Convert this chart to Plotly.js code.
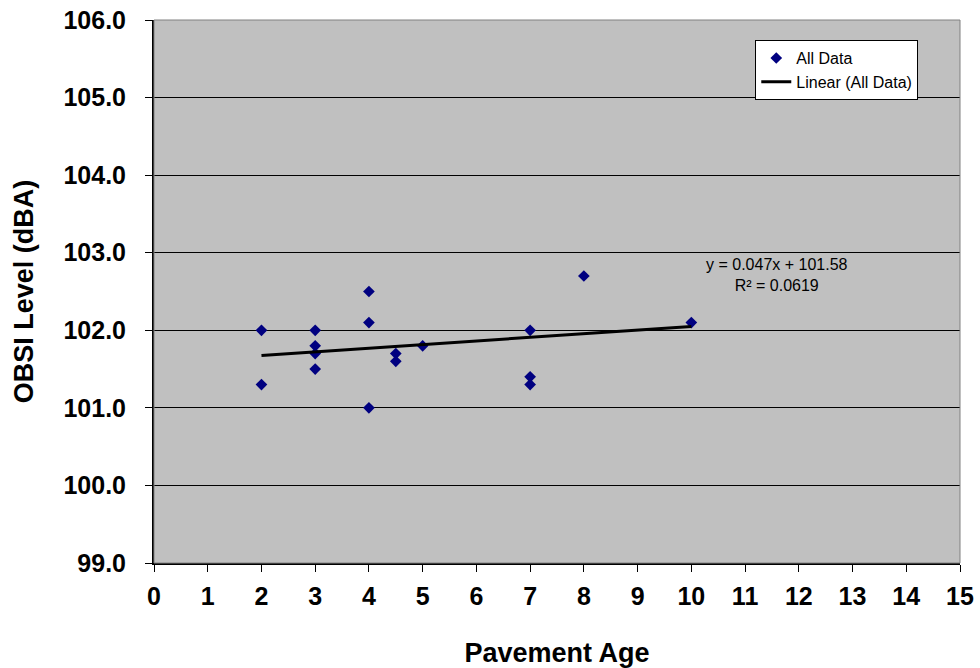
<!DOCTYPE html>
<html>
<head>
<meta charset="utf-8">
<script src="https://cdn.plot.ly/plotly-3.0.1.min.js"></script>
<style>html,body{margin:0;padding:0;background:#fff;}#chart{width:980px;height:668px;}</style>
</head>
<body>
<div id="chart"></div>
<script>
var ageValues = [2, 2, 3, 3, 3, 3, 4, 4, 4, 4.5, 4.5, 5, 7, 7, 7, 8, 10];
var obsiValues = [102.0, 101.3, 102.0, 101.8, 101.7, 101.5, 102.5, 102.1, 101.0, 101.7, 101.6, 101.8, 102.0, 101.4, 101.3, 102.7, 102.1];
var trendSlope = 0.047;
var trendIntercept = 101.58;
var trendR2 = 0.0619;
var xTicks = [0,1,2,3,4,5,6,7,8,9,10,11,12,13,14,15];
var yTicks = [99,100,101,102,103,104,105,106];

var xMin = Math.min.apply(null, ageValues), xMax = Math.max.apply(null, ageValues);
var trendX = [xMin, xMax];
var trendY = trendX.map(function(x){ return trendSlope * x + trendIntercept; });

var font = "Arial, 'Liberation Sans', sans-serif";
var data = [
  {x: ageValues, y: obsiValues, type: 'scatter', mode: 'markers', name: 'All Data',
   marker: {symbol: 'diamond', color: '#000080', size: 9}},
  {x: trendX, y: trendY, type: 'scatter', mode: 'lines', name: 'Linear (All Data)',
   line: {color: '#000000', width: 3}}
];
var layout = {
  width: 980, height: 668,
  margin: {l: 154, r: 20, t: 20, b: 105},
  paper_bgcolor: '#ffffff', plot_bgcolor: '#c0c0c0',
  font: {family: font, color: '#000'},
  showlegend: true,
  legend: {x: 0.746, y: 0.963, xanchor: 'left', yanchor: 'top', bgcolor: '#ffffff',
    bordercolor: '#000000', borderwidth: 1, font: {size: 16, family: font}, tracegroupgap: 2},
  xaxis: {range: [0, 15], tickvals: xTicks, ticktext: xTicks.map(String), showgrid: false, zeroline: false,
    showline: true, linecolor: '#000', linewidth: 2, ticks: 'outside', ticklen: 7, tickcolor: '#000',
    tickfont: {size: 25, family: font, weight: 'bold'}, ticklabelstandoff: 3,
    title: {text: '<b>Pavement Age</b>', font: {size: 27, family: font}, standoff: 36}},
  yaxis: {range: [99, 106], tickvals: yTicks, ticktext: yTicks.map(function(v){return v.toFixed(1);}),
    showgrid: true, gridcolor: '#000', gridwidth: 1, zeroline: false,
    showline: true, linecolor: '#000', linewidth: 2, ticks: 'outside', ticklen: 7, tickcolor: '#000',
    tickfont: {size: 25, family: font, weight: 'bold'}, ticklabelstandoff: 14,
    title: {text: '<b>OBSI Level (dBA)</b>', font: {size: 27, family: font}, standoff: 22}},
  annotations: [
    {x: 11.6, y: 102.71, xref: 'x', yref: 'y', xanchor: 'center', yanchor: 'middle', showarrow: false, align: 'center',
     text: 'y = ' + trendSlope + 'x + ' + trendIntercept + '<br>R² = ' + trendR2,
     font: {size: 16, family: font, color: '#000'}}
  ],
  shapes: [
    {type: 'rect', xref: 'paper', yref: 'paper', x0: 0, x1: 1, y0: 0, y1: 1, line: {color: '#808080', width: 1}}
  ]
};
Plotly.newPlot('chart', data, layout, {displayModeBar: false, staticPlot: true});
</script>
</body>
</html>
